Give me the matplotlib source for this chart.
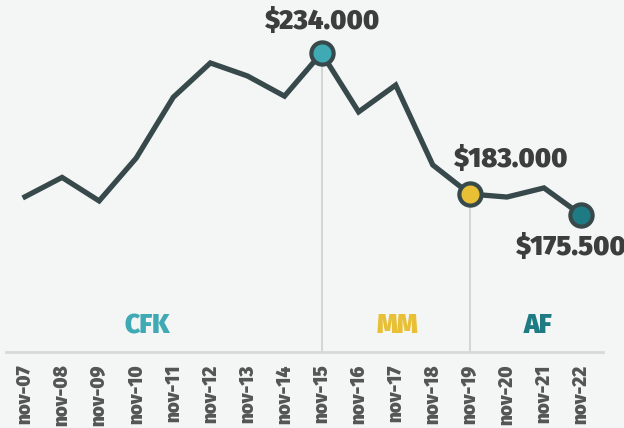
import matplotlib
matplotlib.use("Agg")
import matplotlib.pyplot as plt

labels = ["nov-07", "nov-08", "nov-09", "nov-10", "nov-11", "nov-12", "nov-13", "nov-14",
          "nov-15", "nov-16", "nov-17", "nov-18", "nov-19", "nov-20", "nov-21", "nov-22"]
values = [182000, 189000, 180500, 196000, 218000, 230400, 225700, 218400,
          234000, 212700, 222400, 193500, 183000, 181900, 185200, 175500]
highlight_idx = [8, 12, 15]
highlight_text = ["$234.000", "$183.000", "$175.500"]
periods = ["CFK", "MM", "AF"]
period_centers = [3.3, 10.05, 13.85]

BG = "#f4f6f6"
LINE = "#37494b"
COLS = ["#3fa9b4", "#e8bf35", "#1e7b83"]
TXT = "#3d3d3d"
FONT = ["Fira Sans", "Fira Sans Condensed", "DejaVu Sans"]
plt.rcParams["font.family"] = FONT

fig = plt.figure(figsize=(6.24, 4.28), dpi=100, facecolor=BG)
ax = fig.add_axes([0, 76 / 428, 1, 352 / 428])
ax.set_facecolor(BG)

x = list(range(len(values)))
xmin = -25 / 37.07
xmax = (624 - 25) / 37.07
ax.set_xlim(xmin, xmax)
ax.set_ylim(234000 - 299 * 361.7, 234000 + 53 * 361.7)

for s in ["top", "right", "left"]:
    ax.spines[s].set_visible(False)
ax.spines["bottom"].set_color("#d6d9d9")
ax.spines["bottom"].set_linewidth(2)
ax.spines["bottom"].set_bounds(-0.51, 15.59)
ax.set_yticks([])
ax.set_xticks(x)
ax.set_xticklabels(labels, rotation=90, fontsize=13.5, fontweight=900, color="#555555")
ax.tick_params(axis="x", length=0, pad=9)

# vertical separators
for i in highlight_idx[:2]:
    ax.plot([i, i], [ax.get_ylim()[0], values[i]], color="#d0d3d3", lw=1.3, zorder=1)

ax.plot(x, values, color=LINE, lw=3.8, solid_joinstyle="miter", zorder=2)
for i, c in zip(highlight_idx, COLS):
    ax.plot(i, values[i], "o", ms=16, mfc=c, mec=LINE, mew=3, zorder=3)

ax.text(8, values[8] + 31 * 361.7, highlight_text[0], ha="center", va="center",
        fontsize=19.5, fontweight=900, color=TXT)
ax.text(13.08, values[12] + 34 * 361.7, highlight_text[1], ha="center", va="center",
        fontsize=19.5, fontweight=900, color=TXT)
ax.text(16.2, values[15] - 33 * 361.7, highlight_text[2], ha="right", va="center",
        fontsize=19.5, fontweight=900, color=TXT)

for name, cx, c in zip(periods, period_centers, COLS):
    ax.text(cx, 234000 - (326 - 53) * 361.7, name, ha="center", va="center",
            fontsize=19, fontweight=900, color=c)

fig.savefig("out.png", dpi=100, facecolor=BG)
